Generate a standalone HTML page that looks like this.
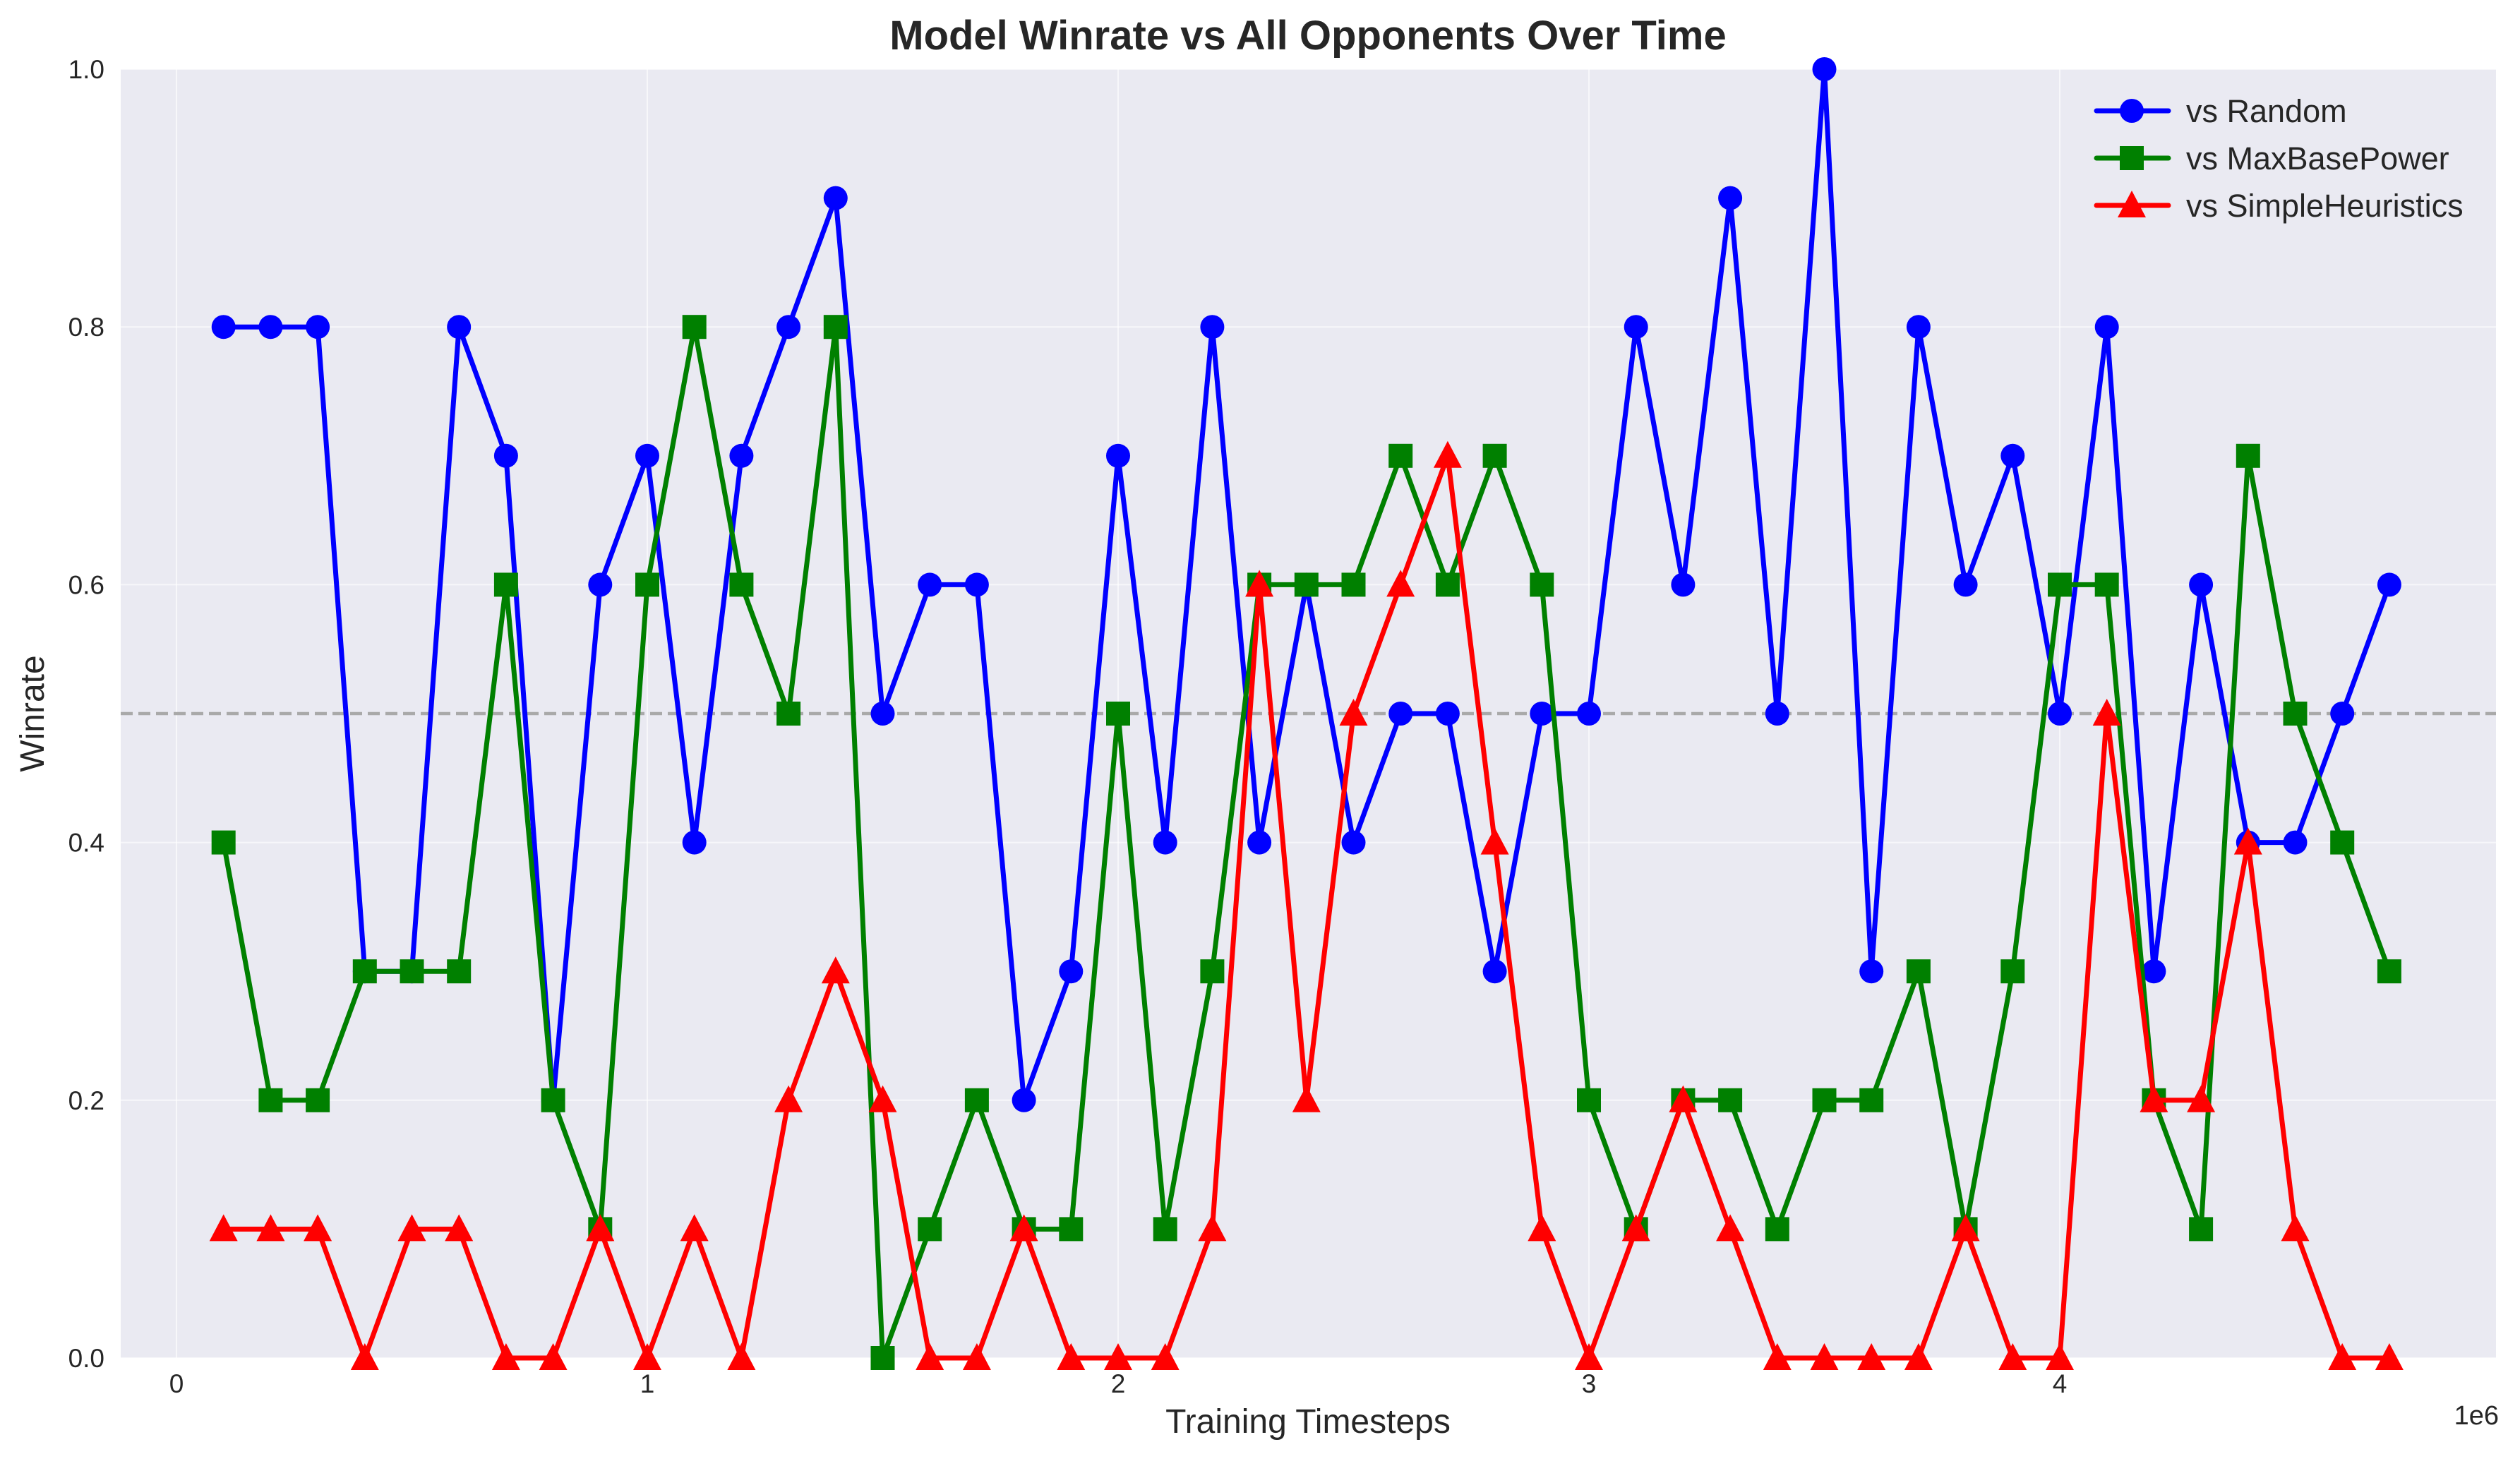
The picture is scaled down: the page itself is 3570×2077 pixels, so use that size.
<!DOCTYPE html>
<html><head><meta charset="utf-8"><style>
html,body{margin:0;padding:0;background:#fff}
svg text{font-family:"Liberation Sans",sans-serif;fill:#262626}
</style></head><body>
<svg id="chart" width="3570" height="2072" viewBox="0 0 3570 2072" xmlns="http://www.w3.org/2000/svg">
<rect x="171" y="98" width="3365" height="1826" fill="#eaeaf2"/>
<g id="grid"></g><g id="ticks"></g><g id="series"></g>
<text x="1853" y="70" font-size="58" font-weight="bold" text-anchor="middle">Model Winrate vs All Opponents Over Time</text>
<text x="1853" y="2030" font-size="48" text-anchor="middle">Training Timesteps</text>
<text x="62" y="1011" font-size="48" text-anchor="middle" transform="rotate(-90 62 1011)">Winrate</text>
<text x="3540" y="2018" font-size="38" text-anchor="end">1e6</text>
<g id="legend"></g>
</svg>
<script>
const xValues=[0.1,0.2,0.3,0.4,0.5,0.6,0.7,0.8,0.9,1.0,1.1,1.2,1.3,1.4,1.5,1.6,1.7,1.8,1.9,2.0,2.1,2.2,2.3,2.4,2.5,2.6,2.7,2.8,2.9,3.0,3.1,3.2,3.3,3.4,3.5,3.6,3.7,3.8,3.9,4.0,4.1,4.2,4.3,4.4,4.5,4.6,4.7];
const vsRandom=[.8,.8,.8,.3,.3,.8,.7,.2,.6,.7,.4,.7,.8,.9,.5,.6,.6,.2,.3,.7,.4,.8,.4,.6,.4,.5,.5,.3,.5,.5,.8,.6,.9,.5,1.0,.3,.8,.6,.7,.5,.8,.3,.6,.4,.4,.5,.6];
const vsMaxBasePower=[.4,.2,.2,.3,.3,.3,.6,.2,.1,.6,.8,.6,.5,.8,0,.1,.2,.1,.1,.5,.1,.3,.6,.6,.6,.7,.6,.7,.6,.2,.1,.2,.2,.1,.2,.2,.3,.1,.3,.6,.6,.2,.1,.7,.5,.4,.3];
const vsSimpleHeuristics=[.1,.1,.1,0,.1,.1,0,0,.1,0,.1,0,.2,.3,.2,0,0,.1,0,0,0,.1,.6,.2,.5,.6,.7,.4,.1,0,.1,.2,.1,0,0,0,0,.1,0,0,.5,.2,.2,.4,.1,0,0];
const xTicks=[0,1,2,3,4];
const yTicks=[0,0.2,0.4,0.6,0.8,1.0];
const seriesNames=["vs Random","vs MaxBasePower","vs SimpleHeuristics"];

const NS="http://www.w3.org/2000/svg";
const X=v=>250+v*667;
const Y=v=>1924-v*1826;
function mk(tag,attrs,parent){const e=document.createElementNS(NS,tag);for(const k in attrs)e.setAttribute(k,attrs[k]);parent.appendChild(e);return e;}
const grid=document.getElementById('grid'),ticks=document.getElementById('ticks'),series=document.getElementById('series'),legend=document.getElementById('legend');
xTicks.forEach(t=>{
  const l=mk('line',{x1:X(t),x2:X(t),y1:98,y2:1924,stroke:'#ffffff','stroke-width':2,'stroke-opacity':0.6},grid);
  
  
  const tx=mk('text',{x:X(t),y:1973,'font-size':37,'text-anchor':'middle'},ticks);
  tx.textContent=String(t);
  
  
});
yTicks.forEach(t=>{
  const l=mk('line',{x1:171,x2:3536,y1:Y(t),y2:Y(t),stroke:'#ffffff','stroke-width':2,'stroke-opacity':0.6},grid);
  
  
  const tx=mk('text',{x:148,y:Y(t)+13,'font-size':37,'text-anchor':'end'},ticks);
  tx.textContent=t.toFixed(1);
  
  
});
const ref=mk('line',{x1:171,x2:3536,y1:Y(0.5),y2:Y(0.5),stroke:'#a9a9a9','stroke-width':4.5,'stroke-dasharray':'17,8'},grid);



function marker(kind,cx,cy,color,parent){
  let e;
  if(kind==='o') e=mk('circle',{cx:cx,cy:cy,r:17,fill:color},parent);
  else if(kind==='s') e=mk('rect',{x:cx-17,y:cy-17,width:34,height:34,fill:color},parent);
  else e=mk('polygon',{points:`${cx},${cy-21} ${cx-20},${cy+17} ${cx+20},${cy+17}`,fill:color},parent);
  return e;
}
const defs=[[vsRandom,'#0000ff','o','random'],[vsMaxBasePower,'#008000','s','maxbasepower'],[vsSimpleHeuristics,'#ff0000','^','simpleheuristics']];
defs.forEach(([vals,color,kind,key])=>{
  const g=mk('g',{},series);
  
  
  const pts=vals.map((v,i)=>X(xValues[i])+','+Y(v)).join(' ');
  const pl=mk('polyline',{points:pts,fill:'none',stroke:color,'stroke-width':7,'stroke-linejoin':'round'},g);
  
  
  vals.forEach((v,i)=>{
    const m=marker(kind,X(xValues[i]),Y(v),color,g);
    
    
  });
});
defs.forEach(([vals,color,kind,key],i)=>{
  const y=157+i*67;
  const g=mk('g',{},legend);
  
  
  mk('line',{x1:2970,x2:3072,y1:y,y2:y,stroke:color,'stroke-width':7,'stroke-linecap':'round'},g);
  marker(kind,3020,y,color,g);
  const t=mk('text',{x:3097,y:y+16,'font-size':45},g);
  t.textContent=seriesNames[i];
});
</script>
</body></html>
